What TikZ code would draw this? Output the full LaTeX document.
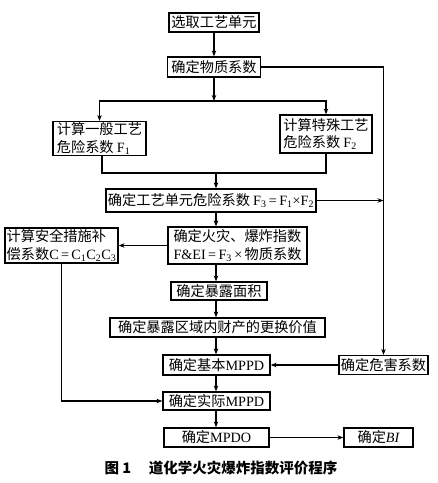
\documentclass[tikz,border=0pt]{standalone}
\usepackage{fontspec}
\setmainfont{Noto Sans CJK SC}
\newfontfamily\westfont{Liberation Serif}
\usepackage{tikz}
\usetikzlibrary{arrows.meta, positioning, calc}

\newcommand{\fsub}[2]{{\westfont #1\textsubscript{#2}}}

\tikzset{
  stepbox/.style={draw, line width=1.2pt, inner sep=1pt, align=left,
    font=\fontsize{14.2}{17.5}\selectfont},
  link/.style={line width=1.1pt},
}

\begin{document}
\begin{tikzpicture}[>={Stealth[length=6pt,width=4.5pt]}, x=1pt, y=-1pt]
    \useasboundingbox (0,0) rectangle (438,483);

    % Main column
    \coordinate (axis) at (216,0);
    \node[stepbox, minimum width=90, minimum height=19] (sel) at (214,22.5) {选取工艺单元};
    \node[stepbox, minimum width=93, minimum height=20] (mat) at (214,67) {确定物质系数};
    \coordinate (split) at (214,101);

    % Two hazard factors
    \node[stepbox, minimum width=93, minimum height=34] (gen) at (99.5,138.5) {计算一般工艺\\危险系数 \fsub{F}{1}};
    \node[stepbox, minimum width=92, minimum height=38] (spe) at (326,134) {计算特殊工艺\\危险系数 \fsub{F}{2}};
    \coordinate (join) at (216,173);

    \node[stepbox, minimum width=210, minimum height=23] (f3) at (211,200.5)
      {确定工艺单元危险系数 {\westfont F\textsubscript{3}\,=\,F\textsubscript{1}×F\textsubscript{2}}};
    \node[stepbox, minimum width=139, minimum height=37] (fei) at (237.5,245.5)
      {确定火灾、爆炸指数\\{\westfont F\&EI\,=\,F\textsubscript{3}\,×\,}物质系数};
    \node[stepbox, minimum width=113, minimum height=35] (cmp) at (61.5,245.5)
      {计算安全措施补\\偿系数{\westfont C\,=\,C\textsubscript{1}C\textsubscript{2}C\textsubscript{3}}};
    \node[stepbox, minimum width=96, minimum height=18] (area) at (219,291) {确定暴露面积};
    \node[stepbox, minimum width=215, minimum height=19] (val) at (217.5,327.5) {确定暴露区域内财产的更换价值};

    % MPPD part
    \node[stepbox, minimum width=107, minimum height=20] (base) at (216.5,365) {确定基本{\westfont MPPD}};
    \node[stepbox, minimum width=89, minimum height=19] (haz) at (383.5,365) {确定危害系数};
    \node[stepbox, minimum width=107, minimum height=18] (real) at (216.5,401) {确定实际{\westfont MPPD}};
    \node[stepbox, minimum width=105, minimum height=19] (mpdo) at (216.5,437.5) {确定{\westfont MPDO}};
    \node[stepbox, minimum width=69, minimum height=19] (bi) at (378.5,437.5) {确定{\westfont\itshape BI}};

    % Caption
    \node[font=\fontsize{14.5}{16}\selectfont\bfseries] (cap) at (221,468) {图 1\quad\ 道化学火灾爆炸指数评价程序};

    % Connectors
    \draw[link, ->] (sel) -- (mat);
    \draw[link, ->] (mat) -- (split);
    \draw[link, ->] (split) -| (gen);
    \draw[link, ->] (split) -| (spe);
    \draw[link, ->] (mat) -| (haz);
    \draw[link] (gen.south -| 102,0) |- (join);
    \draw[link] (spe) |- (join);
    \draw[link, ->] (join) -- (f3.north -| join);
    \draw[link, ->] (f3) -- (f3 -| haz);
    \draw[link, ->] (f3.south -| axis) -- (fei.north -| axis);
    \draw[link, ->] (fei) -- (cmp);
    \draw[link, ->] (fei.south -| axis) -- (area.north -| axis);
    \draw[link, ->] (area.south -| axis) -- (val.north -| axis);
    \draw[link, ->] (val.south -| axis) -- (base.north -| axis);
    \draw[link, ->] (haz) -- (base);
    \draw[link, ->] (base.south -| axis) -- (real.north -| axis);
    \draw[link, ->] (cmp) |- (real);
    \draw[link, ->] (real.south -| axis) -- (mpdo.north -| axis);
    \draw[link, ->] (mpdo) -- (bi);
\end{tikzpicture}
\end{document}
